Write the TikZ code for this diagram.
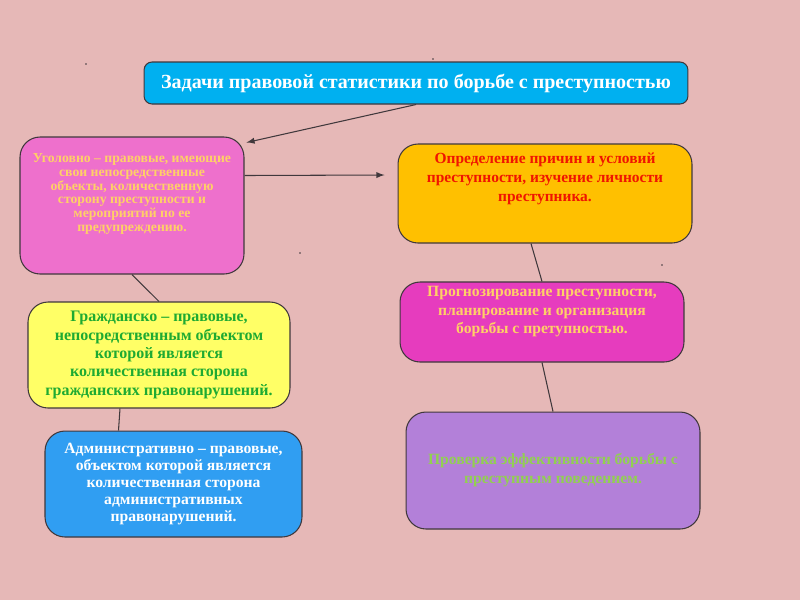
\documentclass[tikz,border=0pt]{standalone}
\usepackage{fontspec}
\setmainfont{Liberation Serif}
\usepackage{tikz}
\usetikzlibrary{calc,arrows,positioning}

\definecolor{bgpink}{RGB}{230,184,183}
\definecolor{titleblue}{RGB}{0,176,240}
\definecolor{boxpink}{RGB}{238,112,204}
\definecolor{boxorange}{RGB}{255,192,0}
\definecolor{boxyellow}{RGB}{255,255,102}
\definecolor{boxmagenta}{RGB}{230,60,190}
\definecolor{boxblue}{RGB}{48,158,242}
\definecolor{boxpurple}{RGB}{179,128,217}
\definecolor{txtpale}{RGB}{255,208,102}
\definecolor{txtred}{RGB}{240,20,0}
\definecolor{txtgreen}{RGB}{30,170,50}
\definecolor{txtlime}{RGB}{146,208,80}
\definecolor{edge}{RGB}{64,56,60}

\begin{document}
\begin{tikzpicture}[x=0.02cm, y=-0.02cm, font=\bfseries,
	box/.style={draw=edge, line width=0.6pt, rounded corners=0.4cm, align=center, inner sep=2pt},
	txt/.style={align=center, inner sep=0pt},
	link/.style={draw=edge, line width=0.6pt}]
	\fill[bgpink] (0,0) rectangle (800,600);
	\useasboundingbox (0,0) rectangle (800,600);

	\node (title) at (416,83) [box, fill=titleblue, rounded corners=0.16cm, minimum width=10.88cm, minimum height=0.84cm, text=white, font=\bfseries\fontsize{11.4}{13}\selectfont] {Задачи правовой статистики по борьбе с преступностью};

	\node (pink) at (132,205.5) [box, fill=boxpink, minimum width=4.48cm, minimum height=2.74cm] {};
	\node (pinktxt) [txt, below=0.33cm of pink.north, text=txtpale, font=\bfseries\fontsize{7.8}{7.9}\selectfont] {Уголовно -- правовые, имеющие\\свои непосредственные\\объекты, количественную\\сторону преступности и\\мероприятий по ее\\предупреждению.};

	\node (orange) at (545,193.5) [box, fill=boxorange, minimum width=5.88cm, minimum height=1.98cm] {};
	\node (orangetxt) [txt, below=0.18cm of orange.north, text=txtred, font=\bfseries\fontsize{8.8}{10.8}\selectfont] {Определение причин и условий\\преступности, изучение личности\\преступника.};

	\node (yellow) at (159,355) [box, fill=boxyellow, minimum width=5.24cm, minimum height=2.12cm, text=txtgreen, font=\bfseries\fontsize{9.1}{10.5}\selectfont] {Гражданско -- правовые,\\непосредственным объектом\\которой является\\количественная сторона\\гражданских правонарушений.};

	\node (magenta) at (542,322) [box, fill=boxmagenta, minimum width=5.68cm, minimum height=1.6cm, text=txtpale, font=\bfseries\fontsize{8.9}{10.5}\selectfont] {Прогнозирование преступности,\\планирование и организация\\борьбы с претупностью.\\[0.1cm]};

	\node (blue) at (173.5,484) [box, fill=boxblue, minimum width=5.14cm, minimum height=2.12cm, text=white, font=\bfseries\fontsize{8.9}{9.8}\selectfont] {Административно -- правовые,\\объектом которой является\\количественная сторона\\административных\\правонарушений.};

	\node (purple) at (553,470.5) [box, fill=boxpurple, minimum width=5.88cm, minimum height=2.34cm, text=txtlime, font=\bfseries\fontsize{8.9}{10.8}\selectfont] {Проверка эффективности борьбы с\\преступным поведением.};

	% arrows and plain links
	\draw[link, -latex] (title.south) -- ($(pink.north east)+(2,6)$);
	\draw[link, -latex] ($(pink.east)+(0,-30)$) -- ($(orange.west)+(-13,-18.5)$);
	\draw[link] (pink.south) -- (yellow.north);
	\draw[link] ($(yellow.south)+(-39,0)$) -- ($(blue.north)+(-55,0)$);
	\draw[link] ($(orange.south)+(-14,0)$) -- (magenta.north);
	\draw[link] (magenta.south) -- (purple.north);

	% stray dots
	\foreach \dx/\dy in {86/64, 300/253, 662/265, 433/59}
		\fill[edge] (\dx,\dy) circle (0.5pt);
\end{tikzpicture}
\end{document}
